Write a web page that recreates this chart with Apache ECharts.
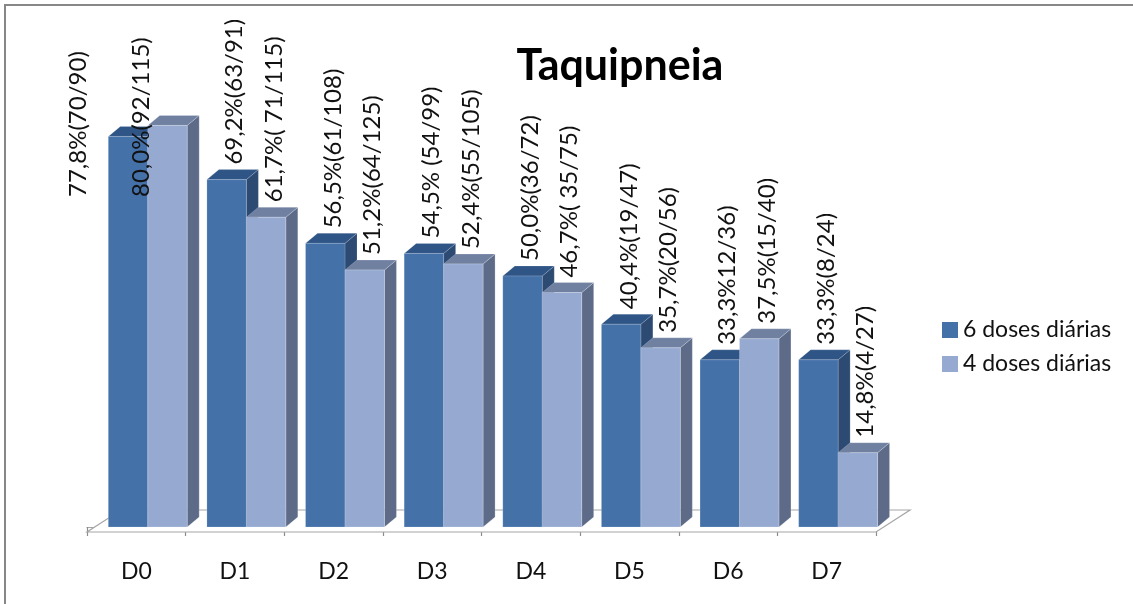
<!DOCTYPE html>
<html>
<head>
<meta charset="utf-8">
<title>Taquipneia</title>
<script src="https://cdn.jsdelivr.net/npm/echarts@6/dist/echarts.min.js"></script>
<style>
  html, body { margin: 0; padding: 0; background: #ffffff; }
  #chart { width: 1133px; height: 604px; }
</style>
</head>
<body>
<div id="chart"></div>
<script>
// Days of follow-up and the share of patients with tachypnoea per dosing regimen
const categories = ['D0', 'D1', 'D2', 'D3', 'D4', 'D5', 'D6', 'D7'];
const seriesNames = ['6 doses diárias', '4 doses diárias'];
const values6 = [77.8, 69.2, 56.5, 54.5, 50.0, 40.4, 33.3, 33.3];
const values4 = [80.0, 61.7, 51.2, 52.4, 46.7, 35.7, 37.5, 14.8];
const labels6 = ['77,8%(70/90)', '69,2%(63/91)', '56,5%(61/108)', '54,5% (54/99)',
                 '50,0%(36/72)', '40,4%(19/47)', '33,3%12/36)', '33,3%(8/24)'];
const labels4 = ['80,0%(92/115)', '61,7%( 71/115)', '51,2%(64/125)', '52,4%(55/105)',
                 '46,7%( 35/75)', '35,7%(20/56)', '37,5%(15/40)', '14,8%(4/27)'];

const FONT = 'Lato, "Open Sans", sans-serif';
const LABEL_SIZE = 24;
const LABEL_FONT = LABEL_SIZE + 'px ' + FONT;
const TEXT_COLOR = '#111111';

// Oblique projection used for the pseudo-3D columns and the floor
const DX = 12, DY = 10;          // column depth
const FLOOR_DX = 34, FLOOR_DY = 22, FLOOR_DROP = 5;
const BAR_FRAC = 0.4;            // width of one column as a share of the band
const PAIR_START = -0.284;       // left edge of the column pair relative to band centre
const LABEL_GAP = 15;            // space between a column top and its label
const LABEL_INSET = 12;          // label centre sits this far inside the right edge
const SPILL_BASE = 197;          // baseline used for labels that would leave the chart
const SPILL_SHIFT = [30, 6];     // those labels are moved left of their column

const measureCtx = document.createElement('canvas').getContext('2d');
function textLength(str) {
  measureCtx.font = LABEL_FONT;
  return measureCtx.measureText(str).width;
}

const palettes = [
  { front: '#4571a9', top: '#2f5586', side: '#2c4a72', edge: 'rgba(255,255,255,0.25)' },
  { front: '#95a9d1', top: '#6f80a1', side: '#5d6b88', edge: 'rgba(255,255,255,0.35)' }
];

function columnRenderer(slot, labels) {
  const pal = palettes[slot];
  return function (params, api) {
    const k = api.value(0);
    const v = api.value(1);
    const base = api.coord([k, 0]);
    const topPt = api.coord([k, v]);
    const bw = api.size([1, 0])[0];
    const w = bw * BAR_FRAC;
    const x0 = base[0] + PAIR_START * bw + slot * w;
    const x1 = x0 + w;
    const yb = base[1];
    const yt = topPt[1];

    const text = labels[k];
    const len = textLength(text);
    let lx = x1 - LABEL_INSET;
    let ly = yt - LABEL_GAP;
    if (ly - len < 0) {
      ly = SPILL_BASE;
      lx = x0 - SPILL_SHIFT[slot];
    }

    return {
      type: 'group',
      children: [
        {
          type: 'polygon',
          shape: { points: [[x1, yt], [x1 + DX, yt - DY], [x1 + DX, yb - DY], [x1, yb]] },
          style: { fill: pal.side, stroke: pal.edge, lineWidth: 0.6 }
        },
        {
          type: 'polygon',
          shape: { points: [[x0, yt], [x0 + DX, yt - DY], [x1 + DX, yt - DY], [x1, yt]] },
          style: { fill: pal.top, stroke: pal.edge, lineWidth: 0.6 }
        },
        {
          type: 'rect',
          shape: { x: x0, y: yt, width: w, height: yb - yt },
          style: { fill: pal.front, stroke: pal.edge, lineWidth: 0.6 }
        },
        {
          type: 'text',
          x: lx,
          y: ly,
          rotation: Math.PI / 2,
          z2: 10,
          style: {
            text: text,
            font: LABEL_FONT,
            fill: TEXT_COLOR,
            align: 'left',
            verticalAlign: 'middle'
          }
        }
      ]
    };
  };
}

// Floor of the 3D plot area, spanning all categories
function floorRenderer(params, api) {
  const first = api.coord([0, 0]);
  const last = api.coord([categories.length - 1, 0]);
  const bw = api.size([1, 0])[0];
  const xl = first[0] - bw / 2;
  const xr = last[0] + bw / 2;
  const yf = first[1] + FLOOR_DROP;
  return {
    type: 'polygon',
    shape: { points: [[xl, yf], [xr, yf], [xr + FLOOR_DX, yf - FLOOR_DY], [xl + FLOOR_DX, yf - FLOOR_DY]] },
    style: { fill: '#ffffff', stroke: '#a6a6a6', lineWidth: 1.2 }
  };
}

const chart = echarts.init(document.getElementById('chart'), null, { renderer: 'canvas' });

chart.setOption({
  backgroundColor: '#ffffff',
  animation: false,
  title: {
    text: 'Taquipneia',
    left: 615,
    top: 40,
    textAlign: 'center',
    textStyle: { fontFamily: FONT, fontSize: 43, fontWeight: 'bold', color: '#000000' }
  },
  legend: {
    data: seriesNames,
    orient: 'vertical',
    left: 937,
    top: 313,
    icon: 'rect',
    itemWidth: 16,
    itemHeight: 16,
    itemGap: 10,
    selectedMode: false,
    textStyle: { fontFamily: FONT, fontSize: 23, lineHeight: 24, color: TEXT_COLOR }
  },
  grid: { left: 87, right: 257, top: 25, bottom: 77 },
  xAxis: {
    type: 'category',
    data: categories,
    boundaryGap: true,
    offset: FLOOR_DROP,
    axisLine: { show: true, lineStyle: { color: '#a6a6a6', width: 1.2 } },
    axisTick: { show: true, length: 9, interval: 0, lineStyle: { color: '#8c8c8c', width: 1.2 } },
    axisLabel: { margin: 28, fontFamily: FONT, fontSize: 23, color: TEXT_COLOR },
    splitLine: { show: false }
  },
  yAxis: { type: 'value', min: 0, max: 100, show: false },
  graphic: [
    {
      type: 'rect',
      silent: true,
      shape: { x: 5, y: 5, width: 1200, height: 700 },
      style: { fill: 'none', stroke: '#878787', lineWidth: 2 }
    }
  ],
  series: [
    {
      name: 'floor',
      type: 'custom',
      silent: true,
      clip: false,
      z: 1,
      renderItem: floorRenderer,
      data: [[0, 0]]
    },
    {
      name: seriesNames[0],
      type: 'custom',
      clip: false,
      z: 2,
      itemStyle: { color: palettes[0].front },
      renderItem: columnRenderer(0, labels6),
      encode: { x: 0, y: 1 },
      data: values6.map((v, i) => [i, v])
    },
    {
      name: seriesNames[1],
      type: 'custom',
      clip: false,
      z: 3,
      itemStyle: { color: palettes[1].front },
      renderItem: columnRenderer(1, labels4),
      encode: { x: 0, y: 1 },
      data: values4.map((v, i) => [i, v])
    }
  ]
});
</script>
</body>
</html>
